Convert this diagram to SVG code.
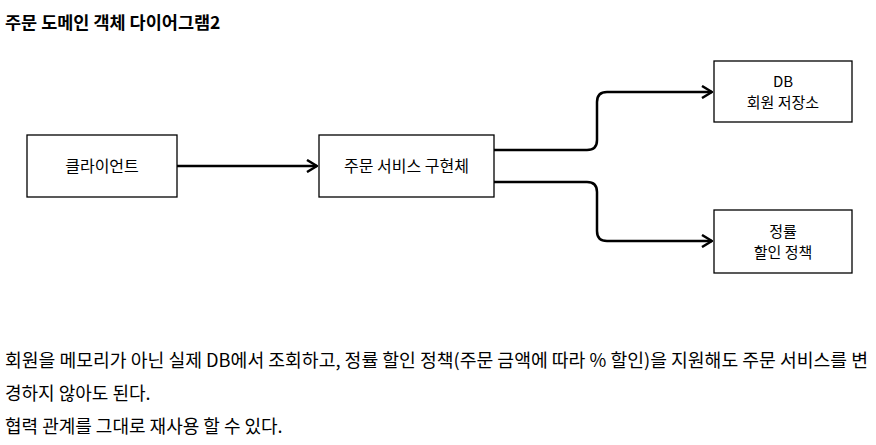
<svg xmlns="http://www.w3.org/2000/svg" width="876" height="445" viewBox="0 0 876 445">
<defs>
<style>
.t{font-family:"Noto Sans CJK KR","Noto Sans",sans-serif;fill:#000}
.box{fill:#fff;stroke:#000;stroke-width:1.3}
.lbl{font-size:16px;text-anchor:middle}
.lbl2{font-size:15px;text-anchor:middle}
.edge{fill:none;stroke:#000;stroke-width:2.5}
.body{font-size:18px}
</style>
<marker id="open" viewBox="0 0 12 14" refX="11" refY="7" markerWidth="12" markerHeight="14" markerUnits="userSpaceOnUse" orient="auto">
<path d="M1 1 L11 7 L1 13" fill="none" stroke="#000" stroke-width="2.5"/>
</marker>
</defs>
<rect width="876" height="445" fill="#fff"/>
<text class="t" x="5" y="29" font-size="17.5" font-weight="bold">주문 도메인 객체 다이어그램2</text>
<g id="client"><rect class="box" x="27" y="135" width="150" height="62"/><text class="t lbl" x="102" y="172">클라이언트</text></g>
<g id="service"><rect class="box" x="319" y="135" width="175" height="62"/><text class="t lbl" x="406.5" y="172">주문 서비스 구현체</text></g>
<g id="db"><rect class="box" x="714" y="61" width="138" height="61"/><text class="t lbl2" x="783" y="87">DB</text><text class="t lbl2" x="783" y="108">회원 저장소</text></g>
<g id="policy"><rect class="box" x="714" y="210" width="138" height="63"/><text class="t lbl2" x="783" y="237">정률</text><text class="t lbl2" x="783" y="258">할인 정책</text></g>
<g id="connectors">
<path class="edge" d="M177 166 H317" marker-end="url(#open)"/>
<path class="edge" d="M494 150 H587 Q597 150 597 140 V102 Q597 92 607 92 H712" marker-end="url(#open)"/>
<path class="edge" d="M494 182 H587 Q597 182 597 192 V231 Q597 241 607 241 H712" marker-end="url(#open)"/>
</g>
<text class="t body" x="5" y="367" textLength="863" lengthAdjust="spacingAndGlyphs">회원을 메모리가 아닌 실제 DB에서 조회하고, 정률 할인 정책(주문 금액에 따라 % 할인)을 지원해도 주문 서비스를 변</text>
<text class="t body" x="5" y="400">경하지 않아도 된다.</text>
<text class="t body" x="5" y="433">협력 관계를 그대로 재사용 할 수 있다.</text>
</svg>
